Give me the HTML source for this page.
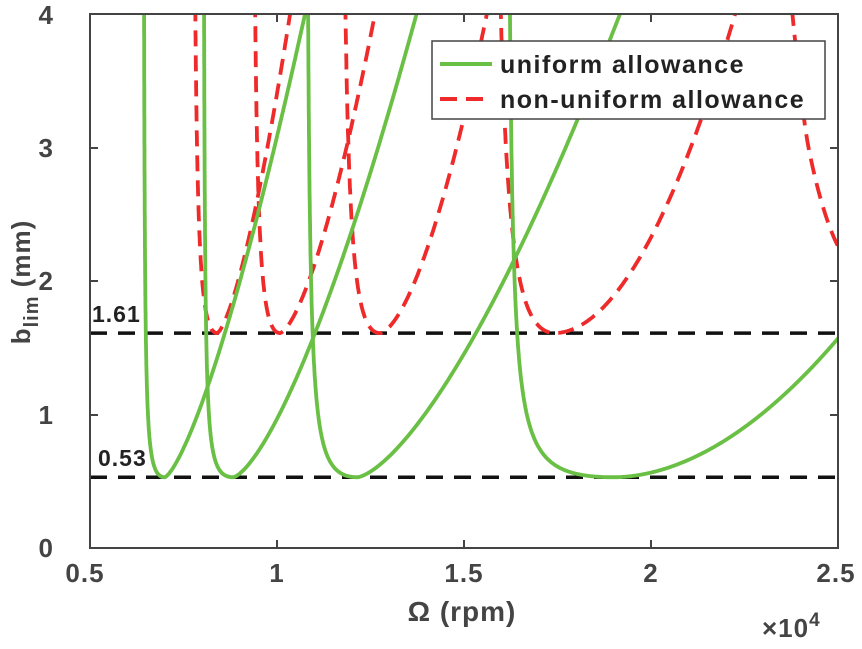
<!DOCTYPE html>
<html><head><meta charset="utf-8"><style>
body{margin:0;background:#fff}
svg text{font-family:"Liberation Sans",Arial,sans-serif;font-weight:bold}
</style></head><body>
<svg id="s" width="862" height="644" xmlns="http://www.w3.org/2000/svg">
<defs><clipPath id="c"><rect x="90" y="14" width="748" height="534"/></clipPath></defs>
<rect width="862" height="644" fill="#fff"/>
<g id="curves" clip-path="url(#c)"></g>
<g stroke="#444" stroke-width="2" fill="none">
<rect x="90" y="14" width="748" height="534"/>
<path d="M277,548v-8M464,548v-8M651,548v-8M277,14v8M464,14v8M651,14v8M90,415h8M90,281h8M90,148h8M838,415h-8M838,281h-8M838,148h-8"/>
</g>
<g fill="#444" font-size="26" letter-spacing="1">
<text x="85" y="582" text-anchor="middle">0.5</text>
<text x="277" y="582" text-anchor="middle">1</text>
<text x="464" y="582" text-anchor="middle">1.5</text>
<text x="651" y="582" text-anchor="middle">2</text>
<text x="836" y="582" text-anchor="middle">2.5</text>
<text x="54" y="557" text-anchor="end">0</text>
<text x="54" y="424" text-anchor="end">1</text>
<text x="54" y="290" text-anchor="end">2</text>
<text x="54" y="157" text-anchor="end">3</text>
<text x="54" y="24" text-anchor="end">4</text>
<text x="462" y="621" text-anchor="middle" font-size="28">Ω (rpm)</text>
<text x="762" y="637" font-size="26">×10<tspan dy="-11" font-size="19">4</tspan></text>
<text transform="translate(30,282) rotate(-90)" text-anchor="middle" font-size="26">b<tspan dy="8" font-size="20">lim</tspan><tspan dy="-8"> (mm)</tspan></text>
</g>
<text x="92" y="322" font-size="23" fill="#222" letter-spacing="1">1.61</text>
<text x="98" y="466" font-size="23" fill="#222" letter-spacing="1">0.53</text>
<g>
<rect x="432" y="41" width="393" height="78" fill="#fff" stroke="#444" stroke-width="1.5"/>
<line x1="440" y1="64" x2="492" y2="64" stroke="#6abf45" stroke-width="4"/>
<line x1="440" y1="99" x2="492" y2="99" stroke="#ee2a2a" stroke-width="4" stroke-dasharray="17 9"/>
<text x="500" y="73" font-size="25" fill="#222" letter-spacing="1.5">uniform allowance</text>
<text x="500" y="108" font-size="25" fill="#222" letter-spacing="1.5">non-uniform allowance</text>
</g>
</svg>
<script>
var X=function(o){return 90+(o-0.5)*374},Y=function(b){return 548-b*133.5};
var g=document.getElementById('curves'),NS='http://www.w3.org/2000/svg';
function lobe(base,a,m,o1,d1,b1,d2,b2,col,dash){
 var dbL=(base>1?0.39:0.47);
 var cl=dbL*(o1-a)/Math.pow(m-o1,2);
 var p=Math.log(b2/b1)/Math.log(d2/d1),c=b1/Math.pow(d1,p);
 var pts=[];
 for(var i=1;i<=400;i++){var o=a+(m-a)*Math.pow(i/400,2.5);var b=base+cl*Math.pow(m-o,2)/(o-a);if(b<6)pts.push([X(o),Y(b)]);}
 for(var o=m;o<=2.6;o+=0.002){var b=base+c*Math.pow(o-m,p);pts.push([X(o),Y(b)]);if(b>4.3)break;}
 path(pts,col,dash);
}
function path(pts,col,dash){var e=document.createElementNS(NS,'path');
 e.setAttribute('d','M'+pts.map(function(q){return q[0].toFixed(1)+','+q[1].toFixed(1)}).join('L'));
 e.setAttribute('fill','none');e.setAttribute('stroke',col);e.setAttribute('stroke-width','3.8');
 if(dash)e.setAttribute('stroke-dasharray',dash);g.appendChild(e);}
var G='#6abf45',R='#ee2a2a',D='16 9';
[1.61,0.53].forEach(function(b){var e=document.createElementNS(NS,'line');e.setAttribute('x1',90);e.setAttribute('x2',838);e.setAttribute('y1',Y(b));e.setAttribute('y2',Y(b));e.setAttribute('stroke','#111');e.setAttribute('stroke-width','3.5');e.setAttribute('stroke-dasharray','17 11');g.appendChild(e);});
lobe(1.61,0.772,0.84,0.80,0.056,0.39,0.195,2.39,R,D);
lobe(1.61,0.93,1.008,0.963,0.077,0.39,0.254,2.39,R,D);
lobe(1.61,1.165,1.275,1.214,0.094,0.39,0.286,2.39,R,D);
lobe(1.61,1.565,1.743,1.65,0.187,0.39,0.482,2.39,R,D);
(function(){var e=document.createElementNS(NS,'path');e.setAttribute('d','M792,10 C797,60 803,120 809,150 S826,225 840,250');e.setAttribute('fill','none');e.setAttribute('stroke',R);e.setAttribute('stroke-width','3.8');e.setAttribute('stroke-dasharray',D);g.appendChild(e);})();
lobe(0.53,0.642,0.70,0.655,0.116,0.69,0.375,3.47,G);
lobe(0.53,0.802,0.883,0.818,0.203,0.97,0.49,3.47,G);
lobe(0.53,1.076,1.215,1.11,0.416,1.61,0.702,3.47,G);
lobe(0.53,1.612,1.9,1.668,0.3,0.28,0.6,1.04,G);
</script>
</body></html>
